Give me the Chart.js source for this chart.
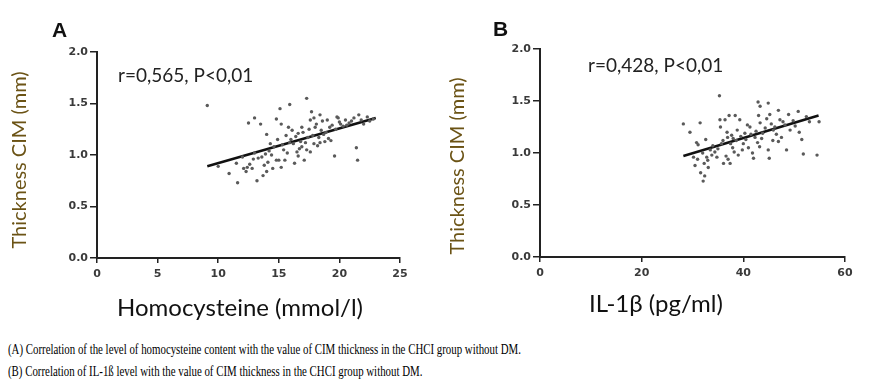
<!DOCTYPE html>
<html>
<head>
<meta charset="utf-8">
<script src="https://cdn.jsdelivr.net/npm/chart.js@4.4.1/dist/chart.umd.min.js"></script>
<style>
  body { margin: 0; background: #fff; width: 876px; height: 387px; overflow: hidden; position: relative; }
  #wrapA { position: absolute; left: 0; top: 0; }
  #wrapB { position: absolute; left: 430px; top: 0; }
  .caption { position: absolute; left: 8px; font-family: 'Liberation Serif', 'Times New Roman', serif; font-size: 15.5px; color: #000;
             white-space: nowrap; transform: scaleX(0.7); transform-origin: left top; }
</style>
</head>
<body>
<div id="wrapA"><canvas id="chartA" width="430" height="330"></canvas></div>
<div id="wrapB"><canvas id="chartB" width="446" height="330"></canvas></div>
<div class="caption" style="top:340px">(A) Correlation of the level of homocysteine content with the value of CIM thickness in the CHCI group without DM.</div>
<div class="caption" style="top:362px">(B) Correlation of IL-1ß level with the value of CIM thickness in the CHCI group without DM.</div>
<script>
// Panel A: homocysteine vs CIM thickness
const homX = [9.1,10.0,10.9,11.6,12.1,12.5,13.0,12.4,12.8,12.9,13.2,13.5,13.7,13.9,14.0,14.1,14.3,14.5,14.8,14.8,
  15.1,15.2,15.4,15.5,15.6,15.8,15.9,16.2,16.3,16.5,16.6,16.8,16.9,17.1,17.3,17.3,17.4,17.6,17.7,17.9,
  18.0,18.3,18.4,18.5,18.8,19.0,19.2,19.6,19.8,20.1,20.5,21.4,21.5,21.6,22.3,22.8,
  13.0,13.6,14.2,14.6,15.0,15.3,15.7,16.0,16.4,16.7,17.0,17.2,17.5,17.8,18.1,18.2,18.6,18.9,19.1,19.4,
  19.7,20.0,20.3,20.8,21.0,21.8,22.0,12.0,11.5,12.6,13.3,14.4,15.9,16.9,17.6,18.4,19.3,14.9,16.1,17.9,
  13.8,15.2,16.6,18.7,19.9,20.6,21.2,22.5,12.3,14.0];
const homY = [1.48,0.89,0.82,0.73,0.87,1.31,1.36,0.88,0.87,0.96,0.75,1.30,0.80,1.01,1.20,0.93,1.11,0.87,1.35,0.95,
  1.45,1.30,1.05,0.95,1.19,1.27,1.49,1.11,0.92,1.03,1.21,1.13,1.27,0.95,1.55,1.05,1.17,1.34,1.42,1.11,
  1.27,1.17,1.39,1.24,1.13,1.34,1.27,0.99,1.37,1.30,1.34,1.07,0.95,1.39,1.37,1.35,
  1.02,0.98,1.04,1.08,0.95,1.10,1.02,1.15,1.18,1.06,1.22,1.12,1.25,1.19,1.30,1.09,1.33,1.22,1.16,1.29,
  1.25,1.32,1.28,1.31,1.33,1.34,1.30,0.98,0.92,0.91,0.97,1.00,1.12,1.08,1.03,1.12,1.14,1.15,1.24,1.36,
  0.90,0.88,0.99,1.20,1.36,1.29,1.36,1.33,0.84,0.84];
const homFitX = [9.1, 23.0];
const homFitY = [0.89, 1.36];

// Panel B: IL-1β vs CIM thickness
const ilX = [28.2,29.5,30.2,30.5,31.1,31.5,31.6,32.1,32.3,32.6,32.8,33.1,33.8,34.4,35.3,35.4,35.5,35.7,36.1,36.4,
  36.6,36.9,37.2,37.4,37.7,37.9,38.4,38.6,38.8,39.0,39.3,40.0,40.3,41.0,41.3,42.0,42.3,42.9,43.3,43.3,
  43.2,43.6,44.9,44.9,45.1,45.2,45.9,46.9,46.9,47.2,48.5,48.9,49.2,50.8,51.0,51.5,51.8,52.4,54.5,54.9,
  34.0,36.0,37.5,38.0,39.5,40.5,41.5,42.5,43.8,44.3,45.5,46.2,47.8,48.2,49.8,50.2,53.0,31.0,32.0,33.5,
  35.0,36.8,38.2,40.8,42.8,44.6,46.5,47.5,30.8,33.0,34.8,37.0,39.8,41.8,43.0,45.8,32.4];
const ilY = [1.28,1.20,0.96,0.88,1.08,1.29,0.81,0.73,0.90,1.13,0.96,0.86,0.98,1.01,1.55,1.32,1.25,1.09,0.90,1.32,
  0.97,1.15,1.36,0.90,1.17,1.05,1.36,1.12,1.22,0.98,1.32,1.09,1.19,1.05,1.25,0.95,1.15,1.49,1.45,1.29,
  1.06,1.14,1.48,1.03,0.95,1.37,1.22,1.41,1.11,1.32,1.03,1.37,1.22,1.40,1.20,1.13,0.99,1.35,0.98,1.30,
  1.07,1.12,1.09,1.14,1.16,1.13,1.18,1.21,1.19,1.24,1.28,1.25,1.30,1.27,1.31,1.26,1.30,0.94,1.00,1.03,
  1.04,1.20,1.01,1.27,1.10,1.33,1.18,1.15,1.10,0.93,0.96,0.94,1.03,1.00,1.36,1.12,0.78];
const ilFitX = [28.2, 54.8];
const ilFitY = [0.97, 1.36];

const yTicks = [0, 0.5, 1.0, 1.5, 2.0];

function pts(xs, ys) {
  return xs.map((x, i) => ({ x: x, y: ys[i] }));
}

// texte du panneau (lettre, r, titres d'axes)
const panelText = {
  id: 'panelText',
  afterDraw(chart, args, o) {
    const ctx = chart.ctx;
    ctx.save();
    ctx.fillStyle = '#111';
    ctx.textAlign = 'left';
    ctx.textBaseline = 'alphabetic';
    ctx.font = 'bold 21px "Liberation Sans", Arial';
    ctx.fillText(o.letter, o.letterX, o.letterY);
    ctx.fillStyle = '#222';
    ctx.font = '19px Lato';
    ctx.fillText(o.note, o.noteX, o.noteY);
    ctx.fillStyle = '#111';
    ctx.font = '24px Lato';
    ctx.textAlign = 'center';
    ctx.fillText(o.xTitle, o.xTitleX, o.xTitleY);
    ctx.translate(o.yTitleX, o.yTitleY);
    ctx.rotate(-Math.PI / 2);
    ctx.fillStyle = '#6b5315';
    ctx.font = '20px Lato';
    ctx.textBaseline = 'middle';
    ctx.fillText('Thickness CIM (mm)', 0, 0);
    ctx.restore();
  }
};

const tickFont = { family: '"DejaVu Sans", sans-serif', size: 11, weight: 'bold' };

function makeChart(id, xs, ys, fx, fy, xMax, xStep, pad, yW, xH, text) {
  return new Chart(document.getElementById(id), {
    type: 'scatter',
    data: {
      datasets: [{
        data: pts(xs, ys),
        pointRadius: 1.7,
        pointBackgroundColor: '#5a5a5a',
        pointBorderWidth: 0
      }, {
        type: 'line',
        data: pts(fx, fy),
        borderColor: '#111',
        borderWidth: 2.6,
        pointRadius: 0,
        fill: false
      }]
    },
    options: {
      responsive: false,
      animation: false,
      layout: { padding: pad },
      plugins: { legend: { display: false }, tooltip: { enabled: false }, panelText: text },
      scales: {
        x: {
          type: 'linear', min: 0, max: xMax,
          ticks: { stepSize: xStep, color: '#3a3a3a', padding: 5, font: tickFont },
          grid: { drawOnChartArea: false, tickLength: 5, color: '#222', lineWidth: 1.5 },
          border: { color: '#222', width: 2 },
          afterFit: s => { s.height = xH; }
        },
        y: {
          type: 'linear', min: 0, max: 2,
          afterBuildTicks: s => { s.ticks = yTicks.map(v => ({ value: v })); },
          ticks: { color: '#3a3a3a', padding: 2, callback: v => v.toFixed(1), font: tickFont },
          grid: { drawOnChartArea: false, tickLength: 7, color: '#222', lineWidth: 1.5 },
          border: { color: '#222', width: 2 },
          afterFit: s => { s.width = yW; }
        }
      }
    },
    plugins: [panelText]
  });
}

makeChart('chartA', homX, homY, homFitX, homFitY, 25, 5,
  { left: 0, top: 52, right: 30, bottom: 0 }, 97, 72,
  { letter: 'A', letterX: 52, letterY: 37, note: 'r=0,565, P<0,01', noteX: 118, noteY: 82,
    xTitle: 'Homocysteine (mmol/l)', xTitleX: 240, xTitleY: 316, yTitleX: 20, yTitleY: 160 });

makeChart('chartB', ilX, ilY, ilFitX, ilFitY, 60, 20,
  { left: 0, top: 49, right: 31, bottom: 0 }, 110, 73,
  { letter: 'B', letterX: 63, letterY: 36, note: 'r=0,428, P<0,01', noteX: 158, noteY: 72,
    xTitle: 'IL-1β (pg/ml)', xTitleX: 226, xTitleY: 312, yTitleX: 28, yTitleY: 166 });
</script>
</body>
</html>
